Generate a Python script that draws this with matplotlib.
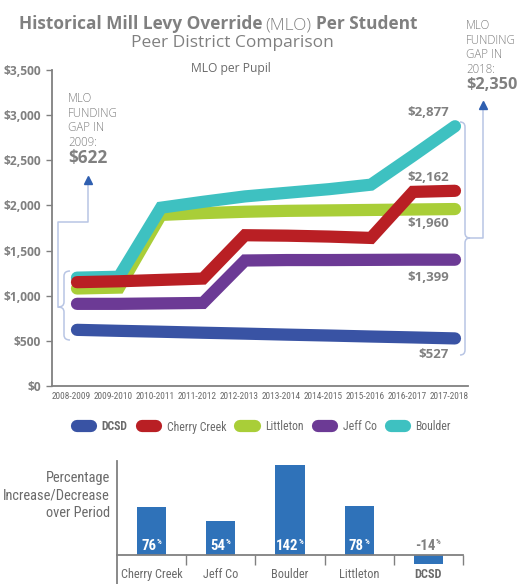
import numpy as np
import matplotlib
matplotlib.use('Agg')
import matplotlib.pyplot as plt
import matplotlib.transforms as mtransforms
from matplotlib import font_manager as fm
from matplotlib.path import Path
from matplotlib.patches import PathPatch
from matplotlib.lines import Line2D

# ---------------- data ----------------
years = ['2008-2009', '2009-2010', '2010-2011', '2011-2012', '2012-2013',
         '2013-2014', '2014-2015', '2015-2016', '2016-2017', '2017-2018']
series_names = ['DCSD', 'Cherry Creek', 'Littleton', 'Jeff Co', 'Boulder']
dcsd = [622, 611, 601, 590, 580, 569, 559, 548, 538, 527]
cherry_creek = [1150, 1160, 1175, 1190, 1670, 1665, 1655, 1640, 2150, 2162]
littleton = [1080, 1090, 1895, 1915, 1930, 1940, 1945, 1950, 1955, 1960]
jeff_co = [910, 910, 915, 920, 1390, 1395, 1395, 1397, 1399, 1399]
boulder = [1200, 1210, 1975, 2040, 2100, 2140, 2180, 2230, 2550, 2877]
y_ticks = [0, 500, 1000, 1500, 2000, 2500, 3000, 3500]

gap_2009_lines = ['MLO', 'FUNDING', 'GAP IN', '2009:']
gap_2009_value = '$622'
gap_2018_lines = ['MLO', 'FUNDING', 'GAP IN', '2018:']

bar_districts = ['Cherry Creek', 'Jeff Co', 'Boulder', 'Littleton', 'DCSD']
pct_change = [76, 54, 142, 78, -14]

# ---------------- style ----------------
colors = ['#3953A4', '#B91F24', '#A9CE38', '#6C3A95', '#3EC1C1']
zorders = [6, 5, 3, 6, 4]
BAR = '#2F72B9'
GRAY = '#808080'
DARK = '#6a6a6a'
LINEBLUE = '#b8c5e4'
ARROWBLUE = '#2f5fb0'

_entries = fm.fontManager.ttflist
_names = {f.name for f in _entries}
def pick(*cands):
    for c in cands:
        if c in _names:
            return c
    return 'DejaVu Sans'
MAIN = pick('Open Sans', 'Lato', 'DejaVu Sans')

# look for a condensed face for the narrow labels
NARROW, NSTRETCH = None, 'normal'
for cand in ['Roboto Condensed', 'Liberation Sans Narrow', 'Open Sans Condensed',
             'Noto Sans Condensed', 'DejaVu Sans Condensed']:
    if cand in _names:
        NARROW = cand
        break
if NARROW is None:
    for f in _entries:
        if str(f.stretch) in ('condensed', 'semi-condensed') and f.name in (
                'Noto Sans', 'Open Sans', 'DejaVu Sans', 'Roboto', 'Inter'):
            NARROW, NSTRETCH = f.name, str(f.stretch)
            break
if NARROW is None:
    NARROW = MAIN
NF = dict(family=NARROW, stretch=NSTRETCH)

W, H = 520, 584
fig = plt.figure(figsize=(W / 100, H / 100), dpi=100)
r = fig.canvas.get_renderer()
pix = mtransforms.Affine2D().scale(1 / W, -1 / H).translate(0, 1) + fig.transFigure

def fx(x):
    return x / W
def fy(y):
    return 1 - y / H

def fit(t, width):
    bb = t.get_window_extent(renderer=r)
    t.set_fontsize(t.get_fontsize() * width / bb.width)
    return t.get_fontsize()

def size_for(s, width, **kw):
    t = fig.text(0, 0, s, fontsize=10, **kw)
    fs = fit(t, width)
    t.remove()
    return fs

# ---------------- title ----------------
t1 = fig.text(19, 29, 'Historical Mill Levy Override', transform=pix, family=MAIN,
              weight='bold', color=GRAY, fontsize=15, va='baseline')
fit(t1, 244)
fs_title = t1.get_fontsize()
x_cur = 19 + t1.get_window_extent(renderer=r).width + 3
t2 = fig.text(x_cur, 29, '(MLO)', transform=pix, family=MAIN, weight='light',
              color=GRAY, fontsize=fs_title, va='baseline')
x_cur += t2.get_window_extent(renderer=r).width + 4
t3 = fig.text(x_cur, 29, 'Per Student', transform=pix, family=MAIN, weight='bold',
              color=GRAY, fontsize=fs_title, va='baseline')

st = fig.text(232, 47, 'Peer District Comparison', transform=pix, family=MAIN,
              color=GRAY, fontsize=13, ha='center', va='baseline')
fit(st, 201)
sub = fig.text(231, 72, 'MLO per Pupil', transform=pix, family=MAIN,
               color=DARK, fontsize=9, ha='center', va='baseline')
fit(sub, 81)

# ---------------- line chart ----------------
ax = fig.add_axes([fx(52), fy(386), fx(468) - fx(52), fy(70) - fy(386)])
x = np.arange(len(years))
all_series = [dcsd, cherry_creek, littleton, jeff_co, boulder]
lines = []
for name, vals, c, z in zip(series_names, all_series, colors, zorders):
    ln, = ax.plot(x, vals, color=c, lw=8.8, solid_capstyle='round',
                  solid_joinstyle='miter', zorder=z, label=name, clip_on=False)
    lines.append(ln)

ax.set_xlim(-0.595, 9.31)
ax.set_ylim(0, 3500)
for s in ['top', 'right']:
    ax.spines[s].set_visible(False)
for s in ['left', 'bottom']:
    ax.spines[s].set_color(GRAY)
    ax.spines[s].set_linewidth(1.3)
ax.set_yticks(y_ticks)
fs_y = size_for('$3,500', 38, family=MAIN, weight='bold')
ax.set_yticklabels([f'${v:,}' for v in y_ticks], family=MAIN, weight='bold',
                   color=GRAY, fontsize=fs_y)
ax.tick_params(axis='y', length=4, width=1, color=GRAY, pad=4)
ax.set_xticks(x)
fs_x = size_for('2008-2009', 39, **NF)
ax.set_xticklabels(years, color=DARK, fontsize=fs_x, **NF)
ax.tick_params(axis='x', length=0, pad=4)
for lab in ax.get_xticklabels():
    lab.set_transform(lab.get_transform() + mtransforms.Affine2D().translate(-6, 0))

# end value labels
label_offsets = [(-6, -16), (-6, 13), (-6, -14), (-6, -18), (-6, 14)]
fs_val = size_for('$2,877', 42, family=MAIN, weight='bold')
for vals, (dx, dy) in zip(all_series, label_offsets):
    ax.annotate(f'${vals[-1]:,}', xy=(x[-1], vals[-1]), xytext=(dx, dy),
                textcoords='offset pixels', ha='right', va='center',
                family=MAIN, weight='bold', color=GRAY, fontsize=fs_val, zorder=10)

# ---------------- annotations ----------------
def brace(xm, y0, y1, ytip, d, w=6, rr=5):
    ex = xm - d * w
    tx = xm + d * w
    verts = [(ex, y0), (xm, y0), (xm, y0 + rr),
             (xm, ytip - rr), (xm, ytip), (tx, ytip),
             (xm, ytip), (xm, ytip + rr),
             (xm, y1 - rr), (xm, y1), (ex, y1)]
    codes = [Path.MOVETO, Path.CURVE3, Path.CURVE3, Path.LINETO, Path.CURVE3,
             Path.CURVE3, Path.CURVE3, Path.CURVE3, Path.LINETO, Path.CURVE3,
             Path.CURVE3]
    fig.add_artist(PathPatch(Path(verts, codes), transform=pix, fill=False,
                             edgecolor=LINEBLUE, lw=1.1))

brace(64, 271, 340, 307, -1)
brace(465, 122, 355, 238, +1, w=5)
fig.add_artist(Line2D([58, 58, 88, 88], [307, 222, 222, 182], transform=pix,
                      color=LINEBLUE, lw=1.1))
fig.add_artist(Line2D([88], [180], transform=pix, marker='^', ms=5.5,
                      color=ARROWBLUE, lw=0))
fig.add_artist(Line2D([470, 483, 483], [238, 238, 107], transform=pix,
                      color=LINEBLUE, lw=1.1))
fig.add_artist(Line2D([483], [105], transform=pix, marker='^', ms=5.5,
                      color=ARROWBLUE, lw=0))

fs_ann = size_for('FUNDING', 50, family=MAIN, weight='light')
for i, s in enumerate(gap_2009_lines):
    fig.text(68, 102 + 14.6 * i, s, transform=pix, family=MAIN, weight='light',
             color=GRAY, fontsize=fs_ann, va='baseline')
v1 = fig.text(68, 163, gap_2009_value, transform=pix, family=MAIN, weight='bold',
              color=GRAY, fontsize=12, va='baseline')
fit(v1, 39)
for i, s in enumerate(gap_2018_lines):
    fig.text(466, 29 + 14.6 * i, s, transform=pix, family=MAIN, weight='light',
             color=GRAY, fontsize=fs_ann, va='baseline')
v2 = fig.text(466, 89, f'${boulder[-1] - dcsd[-1]:,}', transform=pix, family=MAIN,
              weight='bold', color=GRAY, fontsize=12, va='baseline')
fit(v2, 51)

# ---------------- legend ----------------
leg = fig.legend(handles=lines, labels=series_names, ncol=5, loc='center',
                 bbox_to_anchor=(fx(264), fy(427)), frameon=False,
                 prop=dict(size=8.5, **NF), labelcolor=DARK,
                 handlelength=1.2, handletextpad=0.9, columnspacing=1.2)
leg.get_texts()[0].set_weight('bold')

# ---------------- bar chart ----------------
ax2 = fig.add_axes([fx(117), 0, fx(463) - fx(117), fy(461)])
xb = np.arange(len(bar_districts))
ax2.bar(xb, pct_change, width=0.42, color=BAR, zorder=2)
ax2.set_xlim(-0.5, 4.5)
ax2.set_ylim(-45.7, 148.3)
for s in ['top', 'right']:
    ax2.spines[s].set_visible(False)
ax2.spines['bottom'].set_position(('data', 0))
for s in ['left', 'bottom']:
    ax2.spines[s].set_color(GRAY)
    ax2.spines[s].set_linewidth(1.3)
ax2.set_yticks([])
ax2.set_xticks(xb + 0.5)
ax2.set_xticklabels([])
ax2.tick_params(axis='x', which='major', length=7, width=1, color=GRAY, direction='out')
fs_cat = size_for('Cherry Creek', 62, **NF)
for xi, name in zip(xb, bar_districts):
    ax2.annotate(name, xy=(xi, 0), xytext=(0, -13), textcoords='offset pixels',
                 ha='center', va='top', color=DARK, fontsize=min(fs_cat, 8.8),
                 weight='bold' if name == 'DCSD' else 'normal', **NF)

fs_pct = size_for('76', 15, weight='bold', **NF)
for xi, v in zip(xb, pct_change):
    col = 'white' if v > 0 else GRAY
    tn = ax2.annotate(f'{v}', xy=(xi, 0), xytext=(-3, 5), textcoords='offset pixels',
                      ha='center', va='baseline', weight='bold',
                      color=col, fontsize=fs_pct, zorder=5, **NF)
    bb = tn.get_window_extent(renderer=r)
    ax2.annotate('%', xy=(xi, 0), xytext=(-3 + bb.width / 2 + 0.5, 11),
                 textcoords='offset pixels', ha='left', va='baseline',
                 weight='bold', color=col, fontsize=fs_pct * 0.5, zorder=5, **NF)

yl = fig.text(110, 517, 'Percentage\nIncrease/Decrease\nover Period', transform=pix,
              color=DARK, fontsize=12, ha='right', va='baseline',
              multialignment='right', linespacing=1.3, **NF)
fit(yl, 106)

fig.savefig('out.png', dpi=100)
